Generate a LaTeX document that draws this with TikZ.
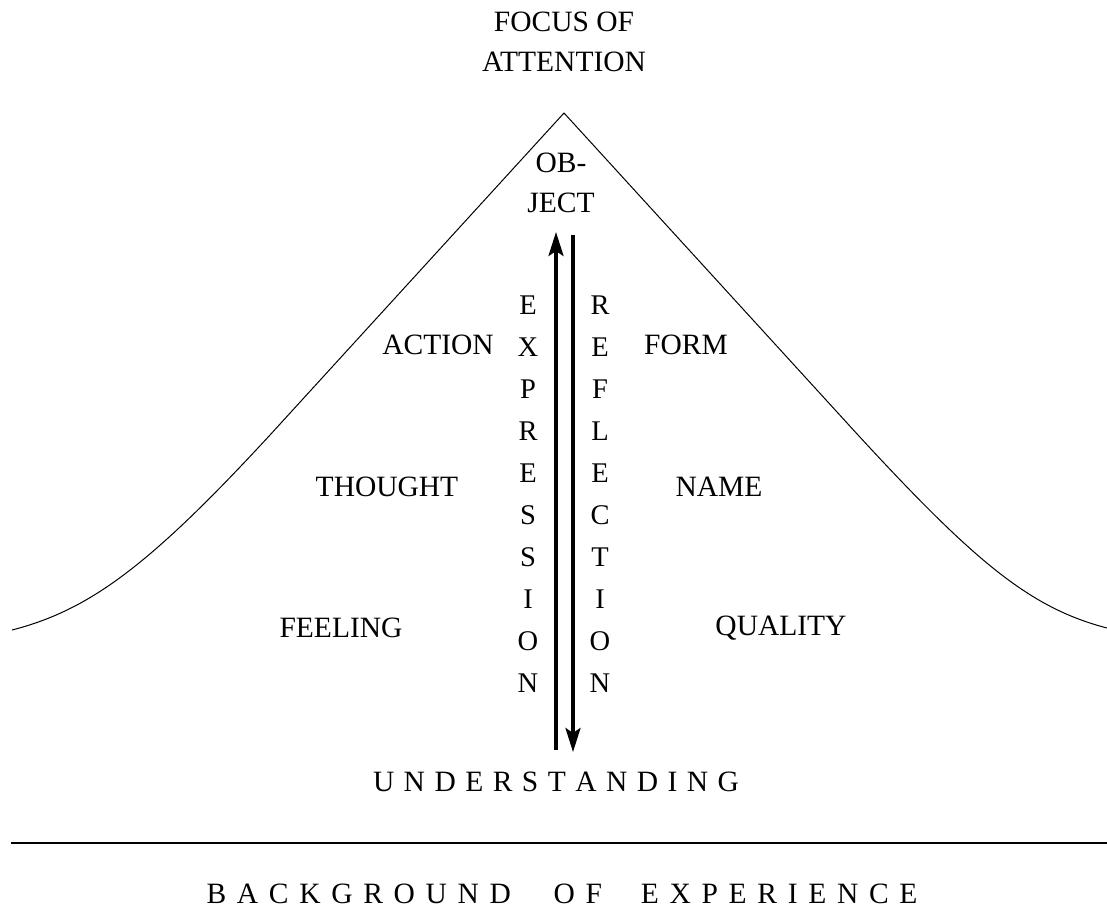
\documentclass[tikz,border=0pt]{standalone}
\usepackage{fontspec}
\setmainfont{Liberation Serif}
\usetikzlibrary{arrows.meta}
\begin{document}
\begin{tikzpicture}[x=1pt,y=-1pt,
  lbl/.style={inner sep=0pt,font=\fontsize{29.5}{40}\selectfont,align=center},
  letter/.style={inner sep=0pt,anchor=base,font=\fontsize{28.5}{40}\selectfont},
  thick arrow/.style={line width=3.6pt,-{Stealth[length=24pt,width=15pt,inset=5pt]}},
  outline/.style={line width=1pt,line join=miter}]
\useasboundingbox (0,0) rectangle (1107,912);
% mountain outline
\draw[outline] (12,630) .. controls (90,610) and (150,565) .. (270,435)
  -- (564,113) -- (858,435) .. controls (975,562) and (1030,608) .. (1107,628);
% base line
\draw[line width=1.6pt] (11,843) -- (1107,843);
% labels
\node[lbl] (focus) at (564,42) {FOCUS OF\\ATTENTION};
\node[lbl] (object) at (561,183) {OB-\\JECT};
\node[lbl] (action) at (438,345) {ACTION};
\node[lbl] (form) at (686,345) {FORM};
\node[lbl] (thought) at (387,487) {THOUGHT};
\node[lbl] (name) at (719,487) {NAME};
\node[lbl] (feeling) at (341,628) {FEELING};
\node[lbl] (quality) at (781,628) {QUALITY};
\node[lbl] (under) at (556,782) {\makebox[366pt][s]{U N D E R S T A N D I N G}};
\node[lbl] (backg) at (562,894) {\makebox[711pt][s]{B A C K G R O U N D \hspace{32pt}O F \hspace{28pt}E X P E R I E N C E}};
% vertical words
\foreach \c [count=\i] in {E,X,P,R,E,S,S,I,O,N}
  \node[letter] (ex\i) at (528,{305+(\i-1)*42+9.5}) {\c};
\foreach \c [count=\i] in {R,E,F,L,E,C,T,I,O,N}
  \node[letter] (re\i) at (600,{305+(\i-1)*42+9.5}) {\c};
% arrows
\coordinate (upbot) at (556,750);
\coordinate (uptop) at (556,232);
\coordinate (dntop) at (573,235);
\coordinate (dnbot) at (573,752);
\draw[thick arrow] (upbot) -- (uptop);
\draw[thick arrow] (dntop) -- (dnbot);
\end{tikzpicture}
\end{document}
